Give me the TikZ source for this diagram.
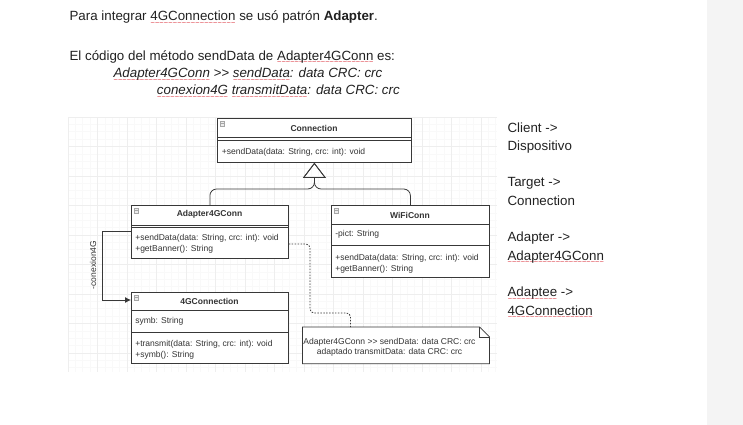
\documentclass[tikz,border=0pt]{standalone}
\usepackage{fontspec}
\setmainfont{Liberation Sans}
\usetikzlibrary{arrows.meta}

\definecolor{bodygray}{rgb}{0.13,0.13,0.13}
\definecolor{umlline}{rgb}{0.22,0.22,0.22}
\definecolor{umlgray}{rgb}{0.2,0.2,0.2}
\definecolor{gridminor}{rgb}{0.975,0.975,0.975}
\definecolor{gridmajor}{rgb}{0.935,0.935,0.935}
\definecolor{sidestrip}{rgb}{0.955,0.955,0.955}
\definecolor{spellred}{rgb}{0.86,0.2,0.24}

% red spell-check wave under a word
\newcommand{\spellwave}[1]{\leavevmode\setbox0\hbox{#1}\rlap{\lower3.6pt\hbox to \wd0{\color{spellred}\fontsize{5.5}{5.5}\selectfont\upshape\xleaders\hbox{\char"7E}\hfil}}\box0\relax}

\tikzset{
  bodytext/.style={anchor=base west,inner sep=0pt,font=\fontsize{10}{12}\selectfont,text=bodygray},
  umltext/.style={anchor=west,inner sep=0pt,font=\fontsize{6.4}{7.7}\selectfont,text=umlgray},
  umltitle/.style={inner sep=0pt,font=\fontsize{6.4}{7.7}\selectfont\bfseries,text=umlgray},
  classbox/.style={draw=umlline,line width=0.6pt,fill=white,anchor=north west,inner sep=0pt},
  iconbox/.style={draw=gray!70,fill=gray!15,line width=0.4pt},
  umledge/.style={draw=umlline,line width=0.6pt}
}

\begin{document}
\begin{tikzpicture}[x=0.75pt,y=0.75pt,yscale=-1,xscale=1]
\useasboundingbox (0,0) rectangle (743,425);

% side strip
\fill[sidestrip] (707,0) rectangle (743,425);

% drawing grid
\begin{scope}[shift={(68,117)}]
\draw[gridminor,line width=0.4pt,step=5.53125pt] (0,0) grid (429,255);
\draw[gridmajor,line width=0.5pt,step=22.125pt] (0,0) grid (429,255);
\end{scope}

% Text Node
\node[bodytext] (intro) at (69.3,20.7) {Para integrar \spellwave{4GConnection} se usó patrón \textbf{Adapter}.};
% Text Node
\node[bodytext] (codeintro) at (69.3,60) {El código del método sendData de \spellwave{Adapter4GConn} es:};
% Text Node
\node[bodytext,font=\fontsize{10}{12}\selectfont\itshape] (codeone) at (113.3,77.7) {\spellwave{Adapter4GConn} >\kern0pt> \spellwave{sendData}: data CRC: crc};
% Text Node
\node[bodytext,font=\fontsize{10}{12}\selectfont\itshape] (codetwo) at (156.7,94.3) {\spellwave{conexion4G} \spellwave{transmitData}: data CRC: crc};

% Text Node
\node[bodytext] (client) at (507.3,132.7) {Client ->};
\node[bodytext] (clientis) at (507.3,150.5) {Dispositivo};
\node[bodytext] (target) at (507.3,186.3) {Target ->};
\node[bodytext] (targetis) at (507.3,205) {Connection};
\node[bodytext] (adapter) at (507.3,241.7) {Adapter ->};
\node[bodytext] (adapteris) at (507.3,260) {\spellwave{Adapter4GConn}};
\node[bodytext] (adaptee) at (507.3,296.7) {\spellwave{Adaptee} ->};
\node[bodytext] (adapteeis) at (507.3,315) {\spellwave{4GConnection}};

% Class: Connection
\node[classbox,minimum width=145.5pt,minimum height=33pt] (conn) at (217,118) {};
\draw[iconbox] (220,121.5) rectangle ++(4.5,4.5);
\draw[gray!70,line width=0.4pt] (221,123.75) -- (223.5,123.75);
\node[umltitle] (conntitle) at (314,128.5) {Connection};
\draw[umledge] (217,137.5) -- (411,137.5);
\draw[umledge] (217,140) -- (411,140);
\node[umltext] (connsend) at (221.5,152.5) {+sendData(data: String, crc: int): void};

% Class: Adapter4GConn
\node[classbox,minimum width=117.75pt,minimum height=39.75pt] (adapt) at (131,205) {};
\draw[iconbox] (134,208.5) rectangle ++(4.5,4.5);
\draw[gray!70,line width=0.4pt] (135,210.75) -- (137.5,210.75);
\node[umltitle] (adapttitle) at (209.5,214.5) {Adapter4GConn};
\draw[umledge] (131,225) -- (288,225);
\draw[umledge] (131,227.5) -- (288,227.5);
\node[umltext] (adaptsend) at (135,238.5) {+sendData(data: String, crc: int): void};
\node[umltext] (adaptbanner) at (135,249.3) {+getBanner(): String};

% Class: WiFiConn
\node[classbox,minimum width=118.5pt,minimum height=54pt] (wifi) at (331,205) {};
\draw[iconbox] (334,208.5) rectangle ++(4.5,4.5);
\draw[gray!70,line width=0.4pt] (335,210.75) -- (337.5,210.75);
\node[umltitle] (wifititle) at (410,215) {WiFiConn};
\draw[umledge] (331,224.5) -- (489,224.5);
\node[umltext] (wifipict) at (335,234.5) {-pict: String};
\draw[umledge] (331,245) -- (489,245);
\node[umltext] (wifisend) at (335,258.5) {+sendData(data: String, crc: int): void};
\node[umltext] (wifibanner) at (335,268.8) {+getBanner(): String};

% Class: 4GConnection
\node[classbox,minimum width=117.75pt,minimum height=53.25pt] (gfour) at (131,292) {};
\draw[iconbox] (134,295.5) rectangle ++(4.5,4.5);
\draw[gray!70,line width=0.4pt] (135,297.75) -- (137.5,297.75);
\node[umltitle] (gfourtitle) at (209.5,301.5) {4GConnection};
\draw[umledge] (131,310.5) -- (288,310.5);
\node[umltext] (gfoursymb) at (135,321) {symb: String};
\draw[umledge] (131,332.5) -- (288,332.5);
\node[umltext] (gfourtransmit) at (135,344.3) {+transmit(data: String, crc: int): void};
\node[umltext] (gfoursymbm) at (135,355) {+symb(): String};

% Note
\node[anchor=north west,minimum width=139.9pt,minimum height=27.2pt,inner sep=0pt] (note) at (302.5,327) {};
\draw[umledge,fill=white] (note.north west) -- ([xshift=-7.5pt]note.north east) -- ([yshift=7.5pt]note.north east) -- (note.south east) -- (note.south west) -- cycle;
\draw[umledge] ([xshift=-7.5pt]note.north east) |- ([yshift=7.5pt]note.north east);
\node[umltext,anchor=center,align=center] (notetext) at (389.5,347) {Adapter4GConn >\kern0pt> sendData: data CRC: crc\\adaptado transmitData: data CRC: crc};

% Generalization
\draw[umledge,rounded corners=5,-{Triangle[open,length=11.25pt,width=17pt]}] (adapt.north) -- ++(0,-16) -| (conn.south);
\draw[umledge,rounded corners=5,-{Triangle[open,length=11.25pt,width=17pt]}] (wifi.north) -- ++(0,-16) -| (conn.south);

% Association conexion4G
\draw[umledge,-{Latex[length=4.5pt,width=4.5pt]}] ([yshift=19.5pt]adapt.north west) -- ++(-29,0) |- ([yshift=6pt]gfour.north west);
\node[umltext,anchor=center,rotate=90] (conexlabel) at (93,265) {-conexion4G};

% Note link
\draw[umledge,dash pattern=on 1.1pt off 1.1pt,rounded corners=3] ([yshift=29.25pt]adapt.north east) -| (310,313) -| ([xshift=36pt]note.north west);

\end{tikzpicture}
\end{document}
